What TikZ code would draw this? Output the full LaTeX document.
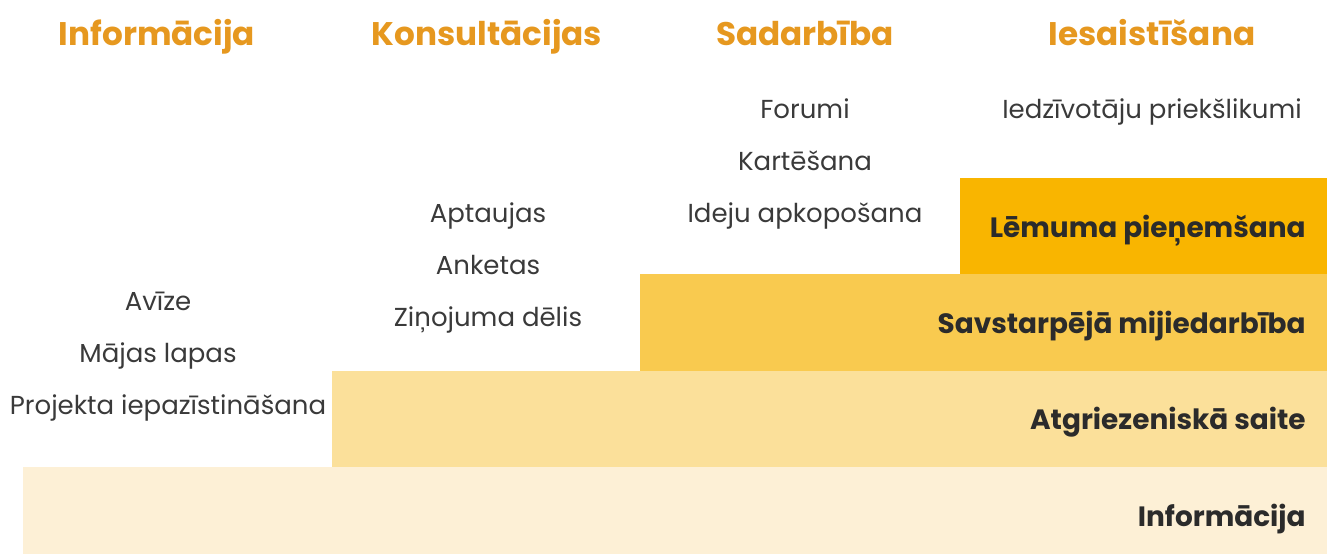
\documentclass[tikz,border=0pt]{standalone}
\usepackage{fontspec}
\setmainfont{Poppins}
\usepackage{tikz}

\definecolor{headorange}{HTML}{E6981F}
\definecolor{itemgray}{HTML}{3A3A3A}
\definecolor{labeldark}{HTML}{2B2B2B}
\definecolor{levelone}{HTML}{FDF0D6}
\definecolor{leveltwo}{HTML}{FBE09A}
\definecolor{levelthree}{HTML}{F9CA4F}
\definecolor{levelfour}{HTML}{F9B500}

\tikzset{
  capbox/.style={inner sep=0pt, text height=1em, text depth=0pt},
  head/.style={capbox, text=headorange, font=\bfseries\fontsize{18.6}{20}\selectfont},
  item/.style={capbox, text=itemgray, font=\fontsize{14.8}{16}\selectfont},
  levellabel/.style={capbox, text=labeldark, anchor=east, font=\bfseries\fontsize{15.9}{17}\selectfont}
}

\begin{document}
\begin{tikzpicture}[x=0.02cm, y=-0.02cm]
  \useasboundingbox (0,0) rectangle (1327,554);

  % steps of participation
  \fill[levelone] (23,467) rectangle (1327,554);
  \fill[leveltwo] (332,371) rectangle (1327,467);
  \fill[levelthree] (640,274) rectangle (1327,371);
  \fill[levelfour] (960,178) rectangle (1327,274);

  \node[levellabel] (lvlinfo) at (1306,518) {Informācija};
  \node[levellabel] (lvlfeedback) at (1306,421) {Atgriezeniskā saite};
  \node[levellabel] (lvlinteract) at (1306,325) {Savstarpējā mijiedarbība};
  \node[levellabel] (lvldecide) at (1306,229) {Lēmuma pieņemšana};

  % column headings
  \node[head] (hinfo) at (157,37) {Informācija};
  \node[head] (hconsult) at (487,37) {Konsultācijas};
  \node[head] (hcoop) at (805,37) {Sadarbība};
  \node[head] (hinvolve) at (1152,37) {Iesaistīšana};

  % methods
  \node[item] (avize) at (158,302) {Avīze};
  \node[item] (majas) at (158,354) {Mājas lapas};
  \node[item] (projekta) at (168,406) {Projekta iepazīstināšana};

  \node[item] (aptaujas) at (488,214) {Aptaujas};
  \node[item] (anketas) at (488,266) {Anketas};
  \node[item] (zinojuma) at (488,318) {Ziņojuma dēlis};

  \node[item] (forumi) at (805,110) {Forumi};
  \node[item] (kartesana) at (805,162) {Kartēšana};
  \node[item] (ideju) at (805,214) {Ideju apkopošana};

  \node[item] (iedzivotaju) at (1152,110) {Iedzīvotāju priekšlikumi};
\end{tikzpicture}
\end{document}
